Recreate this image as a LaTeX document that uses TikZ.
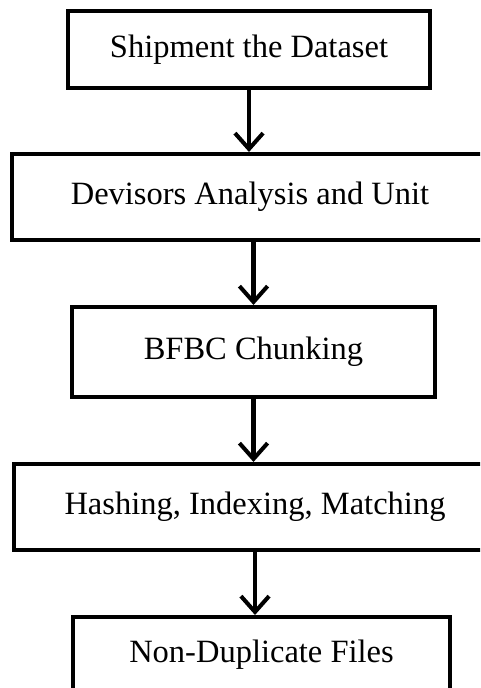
\documentclass[tikz,border=0pt]{standalone}
\usepackage{fontspec}
\setmainfont{Liberation Serif}
\usepackage{tikz}
\usetikzlibrary{arrows.meta}

\tikzset{
  stage/.style={draw, line width=2.3pt, inner sep=0pt, font=\fontsize{18.5}{22}\selectfont},
  flow/.style={-{Straight Barb[length=9pt,width=16pt]}, line width=2.3pt}
}

\begin{document}
\begin{tikzpicture}[x=0.02cm,y=-0.02cm]
  \useasboundingbox (0,0) rectangle (480,688);
  \clip (0,0) rectangle (480,688);
  \node[stage, minimum width=7.24cm, minimum height=1.54cm] (ship) at (249,49.5) {Shipment the Dataset};
  \node[stage, minimum width=9.52cm, minimum height=1.72cm] (divis) at (250,197) {Devisors Analysis and Unit};
  \node[stage, minimum width=7.26cm, minimum height=1.80cm] (chunk) at (253.5,352) {BFBC Chunking};
  \node[stage, minimum width=9.64cm, minimum height=1.72cm] (hash) at (255,507) {Hashing, Indexing, Matching};
  \node[stage, minimum width=7.54cm, minimum height=1.52cm] (nondup) at (261.5,655) {Non-Duplicate Files};
  \draw[flow] (ship.south) -- (ship.south |- divis.north);
  \draw[flow] (chunk.north |- divis.south) -- (chunk.north);
  \draw[flow] (chunk.south) -- (chunk.south |- hash.north);
  \draw[flow] (hash.south) -- (hash.south |- nondup.north);
\end{tikzpicture}
\end{document}
